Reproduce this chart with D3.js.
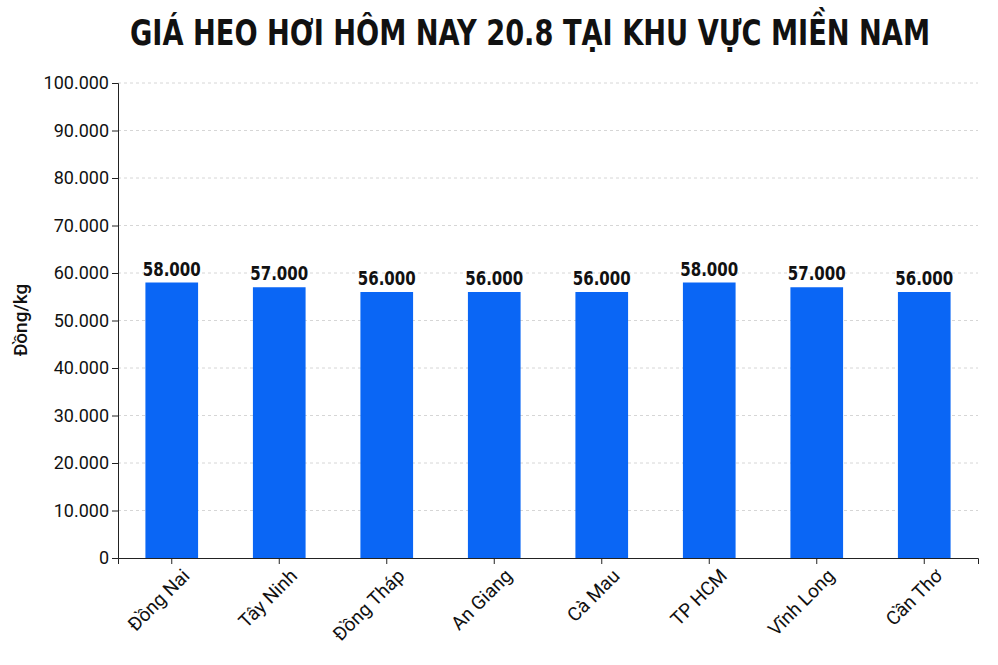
<!DOCTYPE html>
<html><head><meta charset="utf-8">
<script src="https://cdn.jsdelivr.net/npm/d3@7"></script>
<style>body{margin:0;background:#fff}</style></head>
<body><svg id="c" width="998" height="665"></svg>
<script>
const categories=["Đồng Nai","Tây Ninh","Đồng Tháp","An Giang","Cà Mau","TP HCM","Vĩnh Long","Cần Thơ"];
const values=[58000,57000,56000,56000,56000,58000,57000,56000];
const yTicks=[0,10000,20000,30000,40000,50000,60000,70000,80000,90000,100000];
const title="GIÁ HEO HƠI HÔM NAY 20.8 TẠI KHU VỰC MIỀN NAM";
const yLabel="Đồng/kg";

const svg=d3.select("#c");
const m={l:118,r:20,t:83,b:107};
const W=998,H=665;
const fmtV=v=>v===0?"0":(Math.floor(v/1000)+"."+String(v%1000).padStart(3,"0"));
const x=d3.scaleBand().domain(categories).range([m.l,W-m.r]).paddingInner(0.51).paddingOuter(0.255);
const y=d3.scaleLinear().domain([0,100000]).range([H-m.b,m.t]);
const font="'DejaVu Sans',sans-serif";

svg.append("g").selectAll("line").data(yTicks.slice(1)).join("line")
 .attr("x1",m.l).attr("x2",W-m.r).attr("y1",d=>y(d)).attr("y2",d=>y(d))
 .attr("stroke","#ccc").attr("stroke-dasharray","3,3").attr("stroke-width",0.8);

svg.append("g").selectAll("rect").data(values).join("rect")
 .attr("x",(d,i)=>x(categories[i])).attr("width",x.bandwidth())
 .attr("y",d=>y(d)).attr("height",d=>y(0)-y(d)).attr("fill","#0a66f5");

svg.append("g").selectAll("text").data(values).join("text")
 .attr("x",(d,i)=>x(categories[i])+x.bandwidth()/2).attr("y",d=>y(d)-7)
 .attr("text-anchor","middle").attr("font-family",font).attr("font-weight","bold")
 .attr("font-size",19).attr("fill","#111").attr("textLength",58).attr("lengthAdjust","spacingAndGlyphs").text(fmtV);

const ya=svg.append("g").attr("transform",`translate(${m.l},0)`)
 .call(d3.axisLeft(y).tickValues(yTicks).tickFormat(fmtV).tickSize(6));
ya.selectAll("text").attr("font-family","'Roboto',sans-serif").attr("font-size",18).attr("fill","#111");
ya.selectAll("line,path").attr("stroke","#222");

const xa=svg.append("g").attr("transform",`translate(0,${H-m.b})`)
 .call(d3.axisBottom(x).tickSize(6));
xa.selectAll("line,path").attr("stroke","#222");
xa.selectAll("text").attr("font-family","'Roboto',sans-serif").attr("font-size",19).attr("fill","#111")
 .attr("text-anchor","end").attr("transform","translate(8,8) rotate(-45)").attr("dy","0.35em").attr("dx","0");

svg.append("text").attr("x",530).attr("y",45).attr("text-anchor","middle")
 .attr("font-family",font).attr("font-weight","bold").attr("font-size",36).attr("fill","#111")
 .attr("textLength",800).attr("lengthAdjust","spacingAndGlyphs").text(title);

svg.append("text").attr("transform","translate(27,320) rotate(-90)").attr("text-anchor","middle")
 .attr("font-family","'Roboto',sans-serif").attr("font-weight","500").attr("font-size",19).attr("fill","#111").text(yLabel);
</script></body></html>
